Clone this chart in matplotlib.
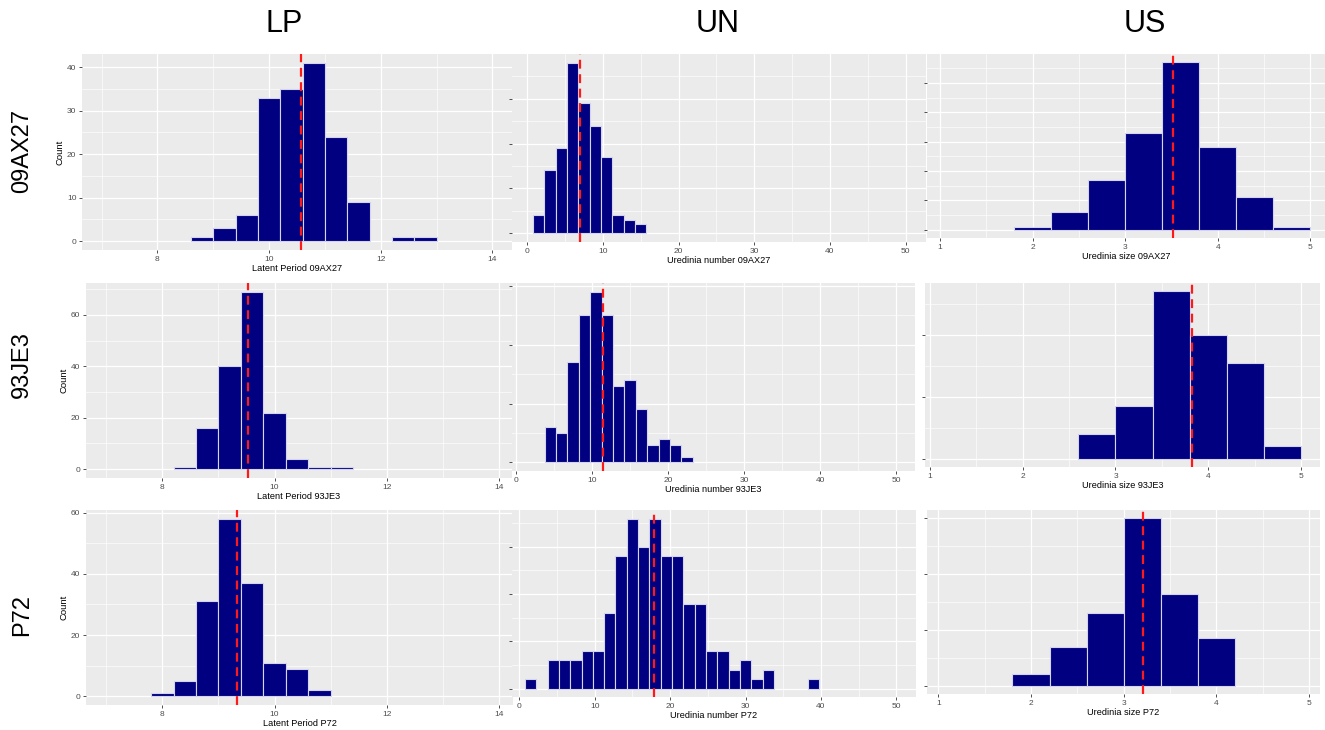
"""3x3 grid of histograms: latent period (LP), uredinia number (UN) and
uredinia size (US) for isolates 09AX27, 93JE3 and P72, mean as red dashed line."""
import numpy as np
import matplotlib
matplotlib.use("Agg")
import matplotlib.pyplot as plt
from matplotlib.ticker import MultipleLocator

plt.rcParams["font.family"] = ["Liberation Sans", "DejaVu Sans"]

ISOLATES = ["09AX27", "93JE3", "P72"]
TRAITS = ["LP", "UN", "US"]
XLABELS = ["Latent Period {}", "Uredinia number {}", "Uredinia size {}"]

# bin widths per trait
LP_BIN, UN_BIN, US_BIN = 0.4, 1.5, 0.4

# histogram counts (first bin start, counts)
LP_09AX27_START, LP_09AX27 = 8.6, [1, 3, 6, 33, 35, 41, 24, 9, 0, 1, 1]
LP_93JE3_START, LP_93JE3 = 8.2, [1, 16, 40, 69, 22, 4, 1, 1]
LP_P72_START, LP_P72 = 7.8, [1, 5, 31, 58, 37, 11, 9, 2]

UN_09AX27_START, UN_09AX27 = 0.75, [4, 14, 19, 38, 29, 24, 17, 4, 3, 2]
UN_93JE3_START, UN_93JE3 = 3.75, [6, 5, 17, 25, 29, 25, 13, 14, 9, 3, 4, 3, 1]
UN_P72_START, UN_P72 = 0.75, [1, 0, 3, 3, 3, 4, 4, 8, 14, 18, 15, 18, 14, 14,
                              9, 9, 4, 4, 2, 3, 1, 2, 0, 0, 0, 1]

US_09AX27_START, US_09AX27 = 1.8, [1, 6, 17, 33, 57, 28, 11, 1]
US_93JE3_START, US_93JE3 = 2.6, [8, 17, 54, 40, 31, 4]
US_P72_START, US_P72 = 1.8, [4, 14, 26, 60, 33, 17]

# means (red dashed line)
LP_MEANS = [10.58, 9.52, 9.33]
UN_MEANS = [7.03, 11.45, 17.8]
US_MEANS = [3.52, 3.82, 3.21]

DATA = {
    (0, 0): (LP_09AX27_START, LP_BIN, LP_09AX27, LP_MEANS[0]),
    (1, 0): (LP_93JE3_START, LP_BIN, LP_93JE3, LP_MEANS[1]),
    (2, 0): (LP_P72_START, LP_BIN, LP_P72, LP_MEANS[2]),
    (0, 1): (UN_09AX27_START, UN_BIN, UN_09AX27, UN_MEANS[0]),
    (1, 1): (UN_93JE3_START, UN_BIN, UN_93JE3, UN_MEANS[1]),
    (2, 1): (UN_P72_START, UN_BIN, UN_P72, UN_MEANS[2]),
    (0, 2): (US_09AX27_START, US_BIN, US_09AX27, US_MEANS[0]),
    (1, 2): (US_93JE3_START, US_BIN, US_93JE3, US_MEANS[1]),
    (2, 2): (US_P72_START, US_BIN, US_P72, US_MEANS[2]),
}

# ---- layout (pixel boxes: left, top, right, bottom) ----
W, H = 1325, 730
BOXES = {
    (0, 0): (82, 54, 512, 250), (0, 1): (512, 54, 926, 242), (0, 2): (927, 54, 1325, 238),
    (1, 0): (86, 283, 512, 478), (1, 1): (512, 283, 915, 471), (1, 2): (925, 283, 1320, 467),
    (2, 0): (86, 510, 513, 705), (2, 1): (512, 510, 916, 697), (2, 2): (927, 510, 1320, 694),
}
XLIMS = {
    (0, 0): (6.65, 14.35), (0, 1): (-2.0, 52.7), (0, 2): (0.86, 5.16),
    (1, 0): (6.64, 14.23), (1, 1): (-0.53, 52.5), (1, 2): (0.946, 5.205),
    (2, 0): (6.64, 14.25), (2, 1): (-0.97, 52.6), (2, 2): (0.877, 5.12),
}
XSTEP = [2, 10, 1]
YSTEP = {(0, 0): 10, (1, 0): 20, (2, 0): 20,
         (0, 1): 10, (1, 1): 10, (2, 1): 5,
         (0, 2): 10, (1, 2): 20, (2, 2): 20}

fig = plt.figure(figsize=(W / 100, H / 100), dpi=100)


def box(l, t, r, b):
    return [l / W, 1 - b / H, (r - l) / W, (b - t) / H]


for (row, col), (start, width, counts, mean) in DATA.items():
    ax = fig.add_axes(box(*BOXES[(row, col)]))
    counts = np.asarray(counts)
    edges = start + width * np.arange(len(counts))
    keep = counts > 0
    ax.bar(edges[keep], counts[keep], width=width, align="edge",
           color="#000080", edgecolor="#d4d4ee", lw=0.8, zorder=3)
    ax.axvline(mean, color="#ff1a1a", ls=(0, (4, 2.5)), lw=1.6, zorder=4)

    m = counts.max()
    ax.set_ylim(-0.05 * m, 1.05 * m)
    ax.set_xlim(*XLIMS[(row, col)])
    ax.set_facecolor("#EBEBEB")
    for s in ax.spines.values():
        s.set_visible(False)

    xs, ys = XSTEP[col], YSTEP[(row, col)]
    ax.xaxis.set_major_locator(MultipleLocator(xs))
    ax.xaxis.set_minor_locator(MultipleLocator(xs / 2))
    ax.yaxis.set_major_locator(MultipleLocator(ys))
    ax.yaxis.set_minor_locator(MultipleLocator(ys / 2))
    ax.set_axisbelow(True)
    ax.grid(which="major", color="white", lw=0.9)
    ax.grid(which="minor", color="white", lw=0.45)
    ax.tick_params(which="major", length=2.5, width=0.6, color="#333333",
                   labelsize=6, labelcolor="#4D4D4D", pad=1.5)
    ax.tick_params(which="minor", length=0)

    ax.set_xlabel(XLABELS[col].format(ISOLATES[row]), fontsize=6.6, labelpad=1.2)
    if col == 0:
        ax.set_ylabel("Count", fontsize=6.8, labelpad=2)
    else:
        ax.tick_params(axis="y", labelleft=False)

# column headers
for x, t in zip([284, 718, 1145], TRAITS):
    fig.text(x / W, 1 - 24 / H, t, fontsize=22, ha="center", va="center")

# row labels
for y, t in zip([151, 365, 615], ISOLATES):
    fig.text(22 / W, 1 - y / H, t, fontsize=17, rotation=90,
             ha="center", va="center")

fig.savefig("out.png", dpi=100)
